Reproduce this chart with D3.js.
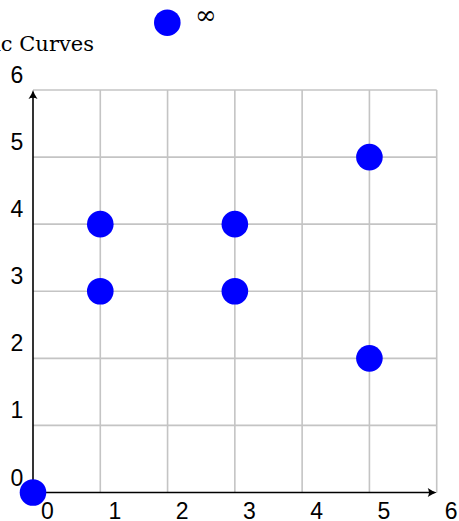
<!DOCTYPE html>
<html>
<head>
<meta charset="utf-8">
<script src="https://cdn.jsdelivr.net/npm/d3@7"></script>
<style>
  body { margin: 0; background: #fff; }
  svg { display: block; }
  .tick-label { font-family: "Liberation Sans", Arial, sans-serif; font-size: 23px; }
  .serif { font-family: "DejaVu Serif", serif; }
</style>
</head>
<body>
<svg width="459" height="521"></svg>
<script>
// data
var title = 'Elliptic Curves';
var legendLabel = '\u221E';
var xValues = [0, 1, 1, 3, 3, 5, 5];
var yValues = [0, 3, 4, 3, 4, 2, 5];
var tickValues = [0, 1, 2, 3, 4, 5, 6];

var svg = d3.select('svg');

var x = d3.scaleLinear().domain([0, 6]).range([33, 436.7]);
var y = d3.scaleLinear().domain([0, 6]).range([492.5, 90]);

// grid lines
var grid = svg.append('g');
grid.selectAll('line.vx')
    .data(tickValues.slice(1))
    .enter().append('line')
    .attr('x1', d => x(d)).attr('x2', d => x(d))
    .attr('y1', y(0)).attr('y2', y(6))
    .attr('stroke', '#c4c4c4').attr('stroke-width', 1.6);
grid.selectAll('line.hy')
    .data(tickValues.slice(1))
    .enter().append('line')
    .attr('x1', x(0)).attr('x2', x(6))
    .attr('y1', d => y(d)).attr('y2', d => y(d))
    .attr('stroke', '#c4c4c4').attr('stroke-width', 1.6);

// axes with arrow heads
function arrow(px, py, ang) {
    var p = d3.path();
    p.moveTo(0, 0);
    p.quadraticCurveTo(-4, 1, -9, 4.5);
    p.quadraticCurveTo(-6.5, 0, -9, -4.5);
    p.quadraticCurveTo(-4, -1, 0, 0);
    svg.append('path')
        .attr('d', p.toString())
        .attr('transform', 'translate(' + px + ',' + py + ') rotate(' + ang + ')')
        .attr('fill', '#000');
}
svg.append('line')
    .attr('x1', x(0)).attr('x2', x(6) - 3)
    .attr('y1', y(0)).attr('y2', y(0))
    .attr('stroke', '#000').attr('stroke-width', 1.6);
arrow(x(6), y(0), 0);
svg.append('line')
    .attr('x1', x(0)).attr('x2', x(0))
    .attr('y1', y(0)).attr('y2', y(6) + 3)
    .attr('stroke', '#000').attr('stroke-width', 1.6);
arrow(x(0), y(6), -90);

// tick labels
svg.append('g').selectAll('text')
    .data(tickValues)
    .enter().append('text')
    .attr('class', 'tick-label')
    .attr('x', d => x(d) + 14.5)
    .attr('y', y(0) + 26)
    .attr('text-anchor', 'middle')
    .text(d => d);
svg.append('g').selectAll('text')
    .data(tickValues)
    .enter().append('text')
    .attr('class', 'tick-label')
    .attr('x', 17)
    .attr('y', d => y(d) - 7)
    .attr('text-anchor', 'middle')
    .text(d => d);

// points
svg.append('g').selectAll('circle')
    .data(xValues)
    .enter().append('circle')
    .attr('cx', (d, i) => x(d))
    .attr('cy', (d, i) => y(yValues[i]))
    .attr('r', 13.3)
    .attr('fill', '#0000ff');

// title
svg.append('text')
    .attr('class', 'serif')
    .attr('x', 94)
    .attr('y', 51)
    .attr('text-anchor', 'end')
    .attr('font-size', 21)
    .text(title);

// legend
svg.append('circle')
    .attr('cx', 167.3).attr('cy', 22.7).attr('r', 13.3)
    .attr('fill', '#0000ff');
svg.append('text')
    .attr('class', 'serif')
    .attr('x', 195)
    .attr('y', 24)
    .attr('font-size', 26)
    .text(legendLabel);
</script>
</body>
</html>
